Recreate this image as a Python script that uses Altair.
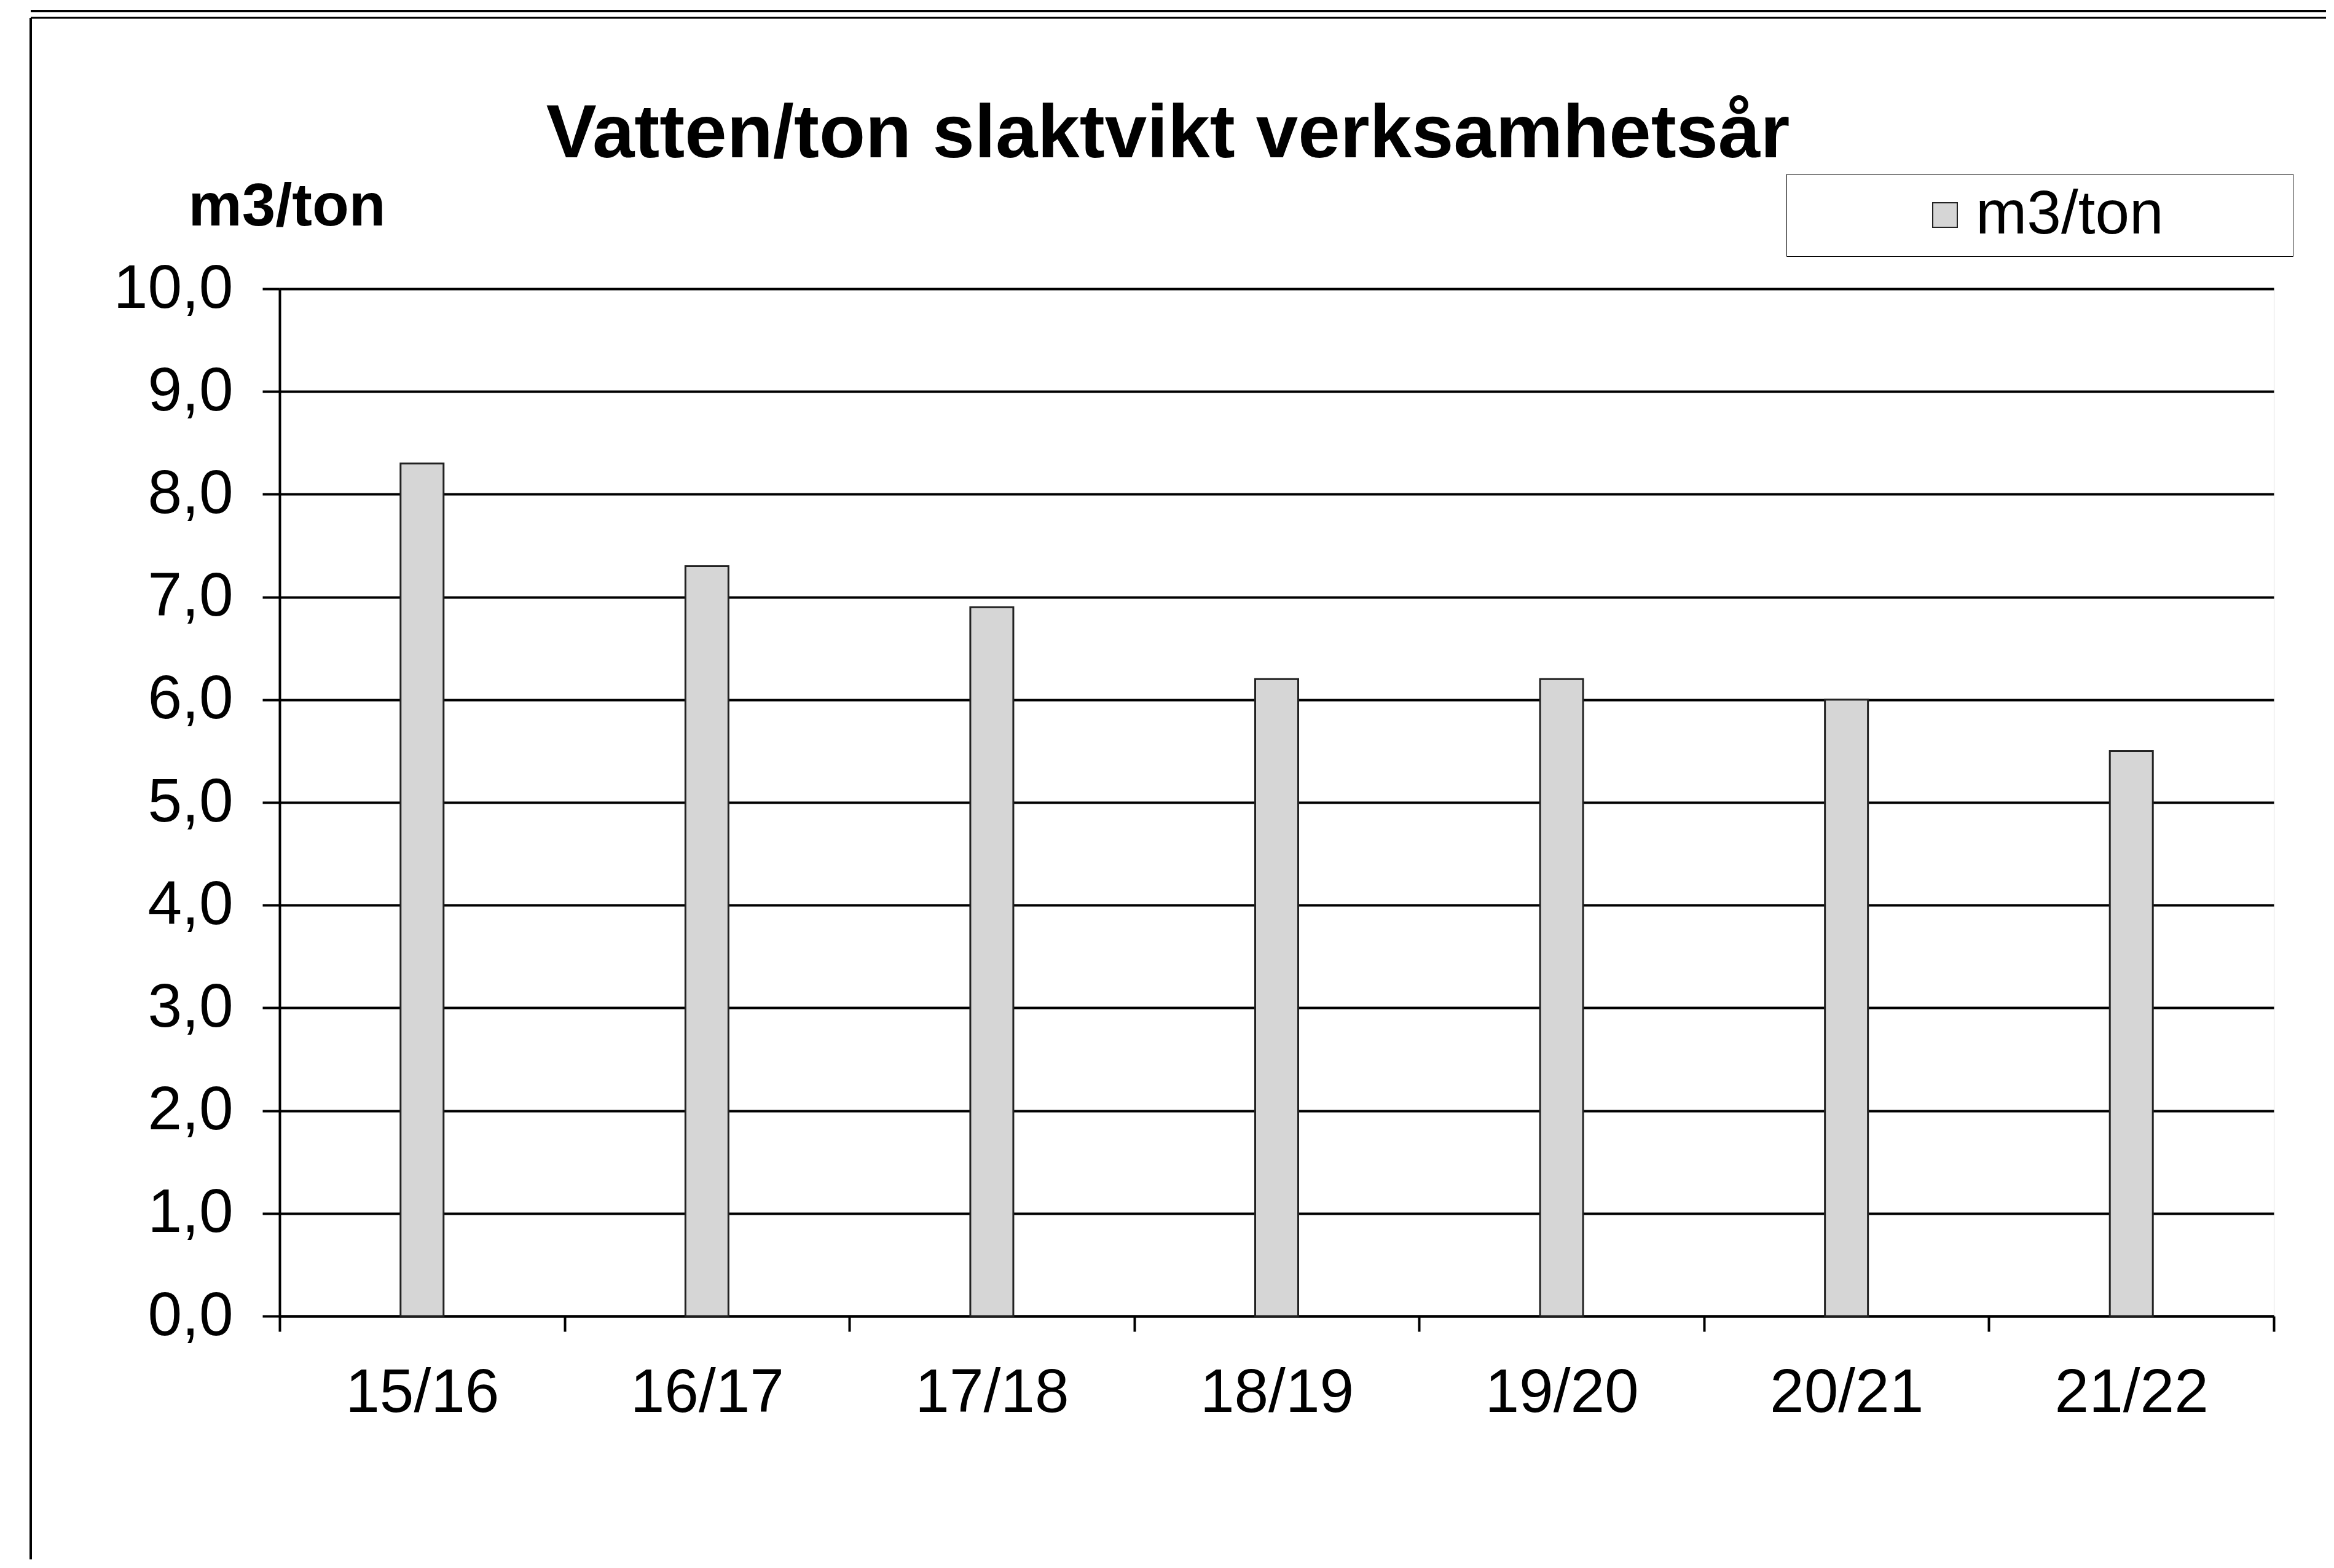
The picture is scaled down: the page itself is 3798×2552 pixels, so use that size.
import altair as alt
import pandas as pd

# ---- data ----
years = ["15/16", "16/17", "17/18", "18/19", "19/20", "20/21", "21/22"]
m3_per_ton = [8.3, 7.3, 6.9, 6.2, 6.2, 6.0, 5.5]
series_name = ["m3/ton"] * len(years)
y_tick_values = [0, 1, 2, 3, 4, 5, 6, 7, 8, 9, 10]

df = pd.DataFrame({"year": years, "value": m3_per_ton, "series": series_name})

FONT = "Liberation Sans"
PLOT_W = 3245
PLOT_H = 1672

bars = alt.Chart(df).mark_bar(size=70, stroke="#222222", strokeWidth=3).encode(
    x=alt.X(
        "year:N",
        sort=years,
        title=None,
        scale=alt.Scale(paddingInner=0, paddingOuter=0),
        axis=alt.Axis(
            labelAngle=0,
            labelFont=FONT,
            labelFontSize=100,
            labelColor="black",
            labelLimit=0,
            labelPadding=51,
            tickBand="extent",
            tickSize=25,
            tickWidth=4,
            tickColor="black",
            domainColor="black",
            domainWidth=4,
            grid=False,
        ),
    ),
    y=alt.Y(
        "value:Q",
        scale=alt.Scale(domain=[0, 10], nice=False),
        title="m3/ton",
        axis=alt.Axis(
            values=y_tick_values,
            labelExpr="replace(format(datum.value, '.1f'), '.', ',')",
            labelFont=FONT,
            labelFontSize=100,
            labelColor="black",
            labelLimit=0,
            labelPadding=48,
            tickSize=28,
            tickWidth=4,
            tickColor="black",
            domainColor="black",
            domainWidth=4,
            grid=True,
            gridColor="black",
            gridWidth=4,
            gridOpacity=1,
            titleAngle=0,
            titleAlign="left",
            titleBaseline="alphabetic",
            titleX=-149,
            titleY=-104,
            titleFont=FONT,
            titleFontSize=98,
            titleFontWeight="bold",
            titleColor="black",
            titleLimit=0,
        ),
    ),
    color=alt.Color(
        "series:N",
        scale=alt.Scale(range=["#d6d6d6"]),
        legend=alt.Legend(
            title=" ",
            titleOrient="right",
            titlePadding=193,
            orient="none",
            legendX=2452,
            legendY=-187,
            padding=17,
            strokeColor="black",
            symbolType="square",
            symbolSize=1600,
            symbolOffset=191,
            symbolStrokeColor="#222222",
            symbolStrokeWidth=2,
            labelOffset=0,
            labelLimit=0,
            labelFont=FONT,
            labelFontSize=100,
            labelColor="black",
        ),
    ),
)

# decorative outer chart-area frame (scanned border)
frame_src = pd.DataFrame({"k": [0]})
frame_top1 = alt.Chart(frame_src).mark_rule(color="black", strokeWidth=4).encode(
    x=alt.value(-405), x2=alt.value(3330), y=alt.value(-452)
)
frame_top2 = alt.Chart(frame_src).mark_rule(color="black", strokeWidth=3).encode(
    x=alt.value(-405), x2=alt.value(3330), y=alt.value(-441)
)
frame_left = alt.Chart(frame_src).mark_rule(color="black", strokeWidth=4).encode(
    x=alt.value(-405), y=alt.value(-441), y2=alt.value(2068)
)

chart = (
    alt.layer(bars, frame_top1, frame_top2, frame_left)
    .properties(
        width=PLOT_W,
        height=PLOT_H,
        padding={"left": 40, "top": 8, "right": 0, "bottom": 0},
        title=alt.TitleParams(
            text="Vatten/ton slaktvikt verksamhetsår",
            font=FONT,
            fontSize=123,
            fontWeight="bold",
            color="black",
            anchor="middle",
            frame="group",
            limit=0,
            dx=-177,
            dy=270,
        ),
    )
    .configure_view(stroke="black", strokeWidth=4)
    .configure_legend(strokeWidth=4)
    .configure(background="white")
)

chart.save("out.html", embed_options={"renderer": "svg", "actions": False})
